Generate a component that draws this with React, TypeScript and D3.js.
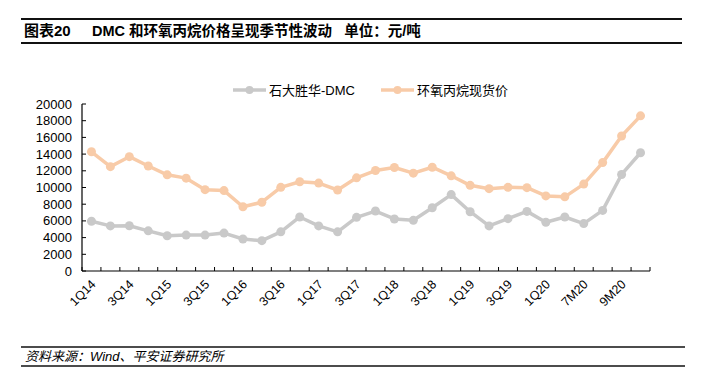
import React from "react";
import * as d3 from "d3";

const categories = [
  "1Q14","2Q14","3Q14","4Q14","1Q15","2Q15","3Q15","4Q15",
  "1Q16","2Q16","3Q16","4Q16","1Q17","2Q17","3Q17","4Q17",
  "1Q18","2Q18","3Q18","4Q18","1Q19","2Q19","3Q19","4Q19",
  "1Q20","2Q20","7M20","8M20","9M20","10M20",
];
const dmc = [
  5960,5400,5420,4810,4220,4300,4300,4540,3830,3630,4690,6470,5400,4690,6430,7180,
  6230,6070,7570,9150,7100,5400,6270,7140,5840,6470,5680,7260,11560,14160,
];
const propylene = [
  14280,12500,13690,12580,11520,11120,9740,9630,7690,8240,10020,10690,10530,9700,11160,12030,
  12390,11720,12430,11400,10260,9860,10020,9980,8990,8880,10410,12980,16170,18580,
];
const yTicks = [0,2000,4000,6000,8000,10000,12000,14000,16000,18000,20000];
const seriesNames = ["石大胜华-DMC", "环氧丙烷现货价"];
const titleText = "图表20";
const titleMain = "DMC 和环氧丙烷价格呈现季节性波动   单位：元/吨";
const sourceText = "资料来源：Wind、平安证券研究所";

export default function App() {
  const W = 707, H = 385;
  const left = 82, right = 650, top = 104, bottom = 271;
  const x = d3.scaleBand<string>().domain(categories).range([left, right]);
  const y = d3.scaleLinear().domain([0, 20000]).range([bottom, top]);
  const cx = (c: string) => (x(c) as number) + x.bandwidth() / 2;
  const line = d3.line<number>().x((_, i) => cx(categories[i])).y((d) => y(d));
  const font = "Arial, 'Liberation Sans', 'Noto Sans CJK SC', sans-serif";
  const gray = "#c9c9c9";
  const orange = "#f8cba8";
  const series = [
    { name: seriesNames[0], data: dmc, color: gray },
    { name: seriesNames[1], data: propylene, color: orange },
  ];
  const bounds = categories.map((c) => x(c) as number).concat([right]);
  return (
    <svg width={W} height={H} style={{ position: "absolute", left: 0, top: 0, background: "#fff" }} fontFamily={font}>
      <line x1={21} x2={682} y1={19} y2={19} stroke="#111" strokeWidth={2} />
      <line x1={21} x2={682} y1={43} y2={43} stroke="#111" strokeWidth={2} />
      <text x={24} y={36} fontSize={15} fontWeight="bold" fill="#000">{titleText}</text>
      <text x={92} y={36} fontSize={14.5} fontWeight="bold" fill="#000" xmlSpace="preserve">{titleMain}</text>

      {yTicks.map((t) => (
        <g key={t}>
          <text x={72} y={y(t)} dy="0.35em" textAnchor="end" fontSize={13} fill="#000">{t}</text>
          <line x1={left} x2={left + 4} y1={y(t)} y2={y(t)} stroke="#000" strokeWidth={1} />
        </g>
      ))}
      <line x1={left} x2={left} y1={top} y2={bottom} stroke="#000" strokeWidth={1.2} />
      <line x1={left} x2={right} y1={bottom} y2={bottom} stroke="#000" strokeWidth={1.2} />
      {bounds.map((b, i) => (
        <line key={i} x1={b} x2={b} y1={bottom} y2={bottom - 4} stroke="#000" strokeWidth={1} />
      ))}
      {categories.map((c, i) =>
        i % 2 === 0 ? (
          <text key={c} transform={`translate(${cx(c) + 5},${bottom + 14}) rotate(-45)`} textAnchor="end" fontSize={12.5} fill="#000">{c}</text>
        ) : null
      )}

      {series.map((s) => (
        <g key={s.name}>
          <path d={line(s.data) || ""} fill="none" stroke={s.color} strokeWidth={3.5} strokeLinejoin="round" />
          {s.data.map((v, i) => (
            <circle key={i} cx={cx(categories[i])} cy={y(v)} r={4.5} fill={s.color} />
          ))}
        </g>
      ))}

      {[{ x0: 233, tx: 269, s: series[0] }, { x0: 381, tx: 417, s: series[1] }].map((l) => (
        <g key={l.s.name}>
          <line x1={l.x0} x2={l.x0 + 33} y1={90} y2={90} stroke={l.s.color} strokeWidth={3.5} />
          <circle cx={l.x0 + 16.5} cy={90} r={4} fill={l.s.color} />
          <text x={l.tx} y={90} dy="0.35em" fontSize={13} fill="#000">{l.s.name}</text>
        </g>
      ))}

      <line x1={21} x2={685} y1={347} y2={347} stroke="#111" strokeWidth={1.5} />
      <line x1={21} x2={685} y1={366} y2={366} stroke="#111" strokeWidth={1.5} />
      <text x={25} y={361} fontSize={13} fontStyle="italic" fill="#000">{sourceText}</text>
    </svg>
  );
}
